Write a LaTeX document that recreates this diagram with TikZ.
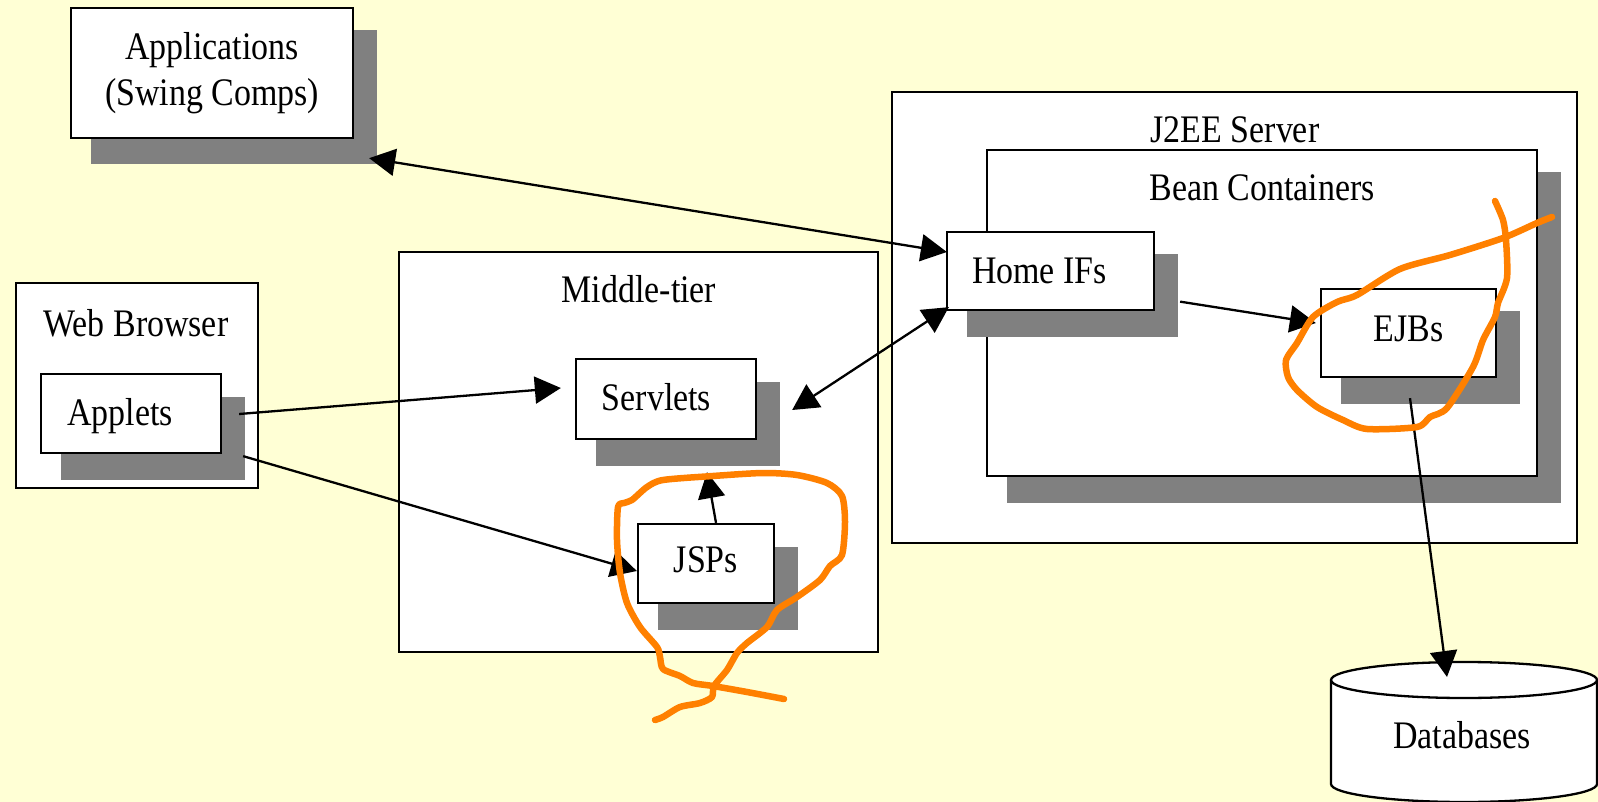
\documentclass[tikz,border=0pt]{standalone}
\usepackage{fontspec}
\setmainfont{Liberation Serif}[FakeStretch=0.87]
\usetikzlibrary{arrows.meta,calc}

\definecolor{paper}{RGB}{255,255,213}
\definecolor{shade}{RGB}{128,128,128}
\definecolor{marker}{RGB}{255,128,0}

\newcommand\labelfont{\fontsize{39pt}{46pt}\selectfont}

\tikzset{
  frame/.style={draw, fill=white, line width=2.3pt, inner sep=0pt},
  shadowed/.style={preaction={fill=shade, draw=shade, line width=4pt,
      transform canvas={shift={(22pt,-24.5pt)}}}},
  word/.style={font=\labelfont, text height=26pt, text depth=8pt},
  title/.style={word, inner sep=0pt},
  nudge/.style={execute at begin node={\hspace*{#1}}},
  tip/.tip={Triangle[length=26pt,width=27pt]},
  link/.style={line width=2.3pt, -tip},
  twoway/.style={line width=2.3pt, tip-tip},
  scrawl/.style={draw=marker, line width=6.5pt, line cap=round, line join=round}
}

\begin{document}
\begin{tikzpicture}[x=1pt, y=-1pt]
  % page
  \useasboundingbox (0,0) rectangle (1598,802);
  \fill[paper] (0,0) rectangle (1598,802);

  % desktop client
  \node[frame, shadowed, minimum width=282pt, minimum height=130pt,
        font=\labelfont, align=center] (apps) at (212,73)
        {Applications\\(Swing Comps)};

  % browser tier
  \node[frame, minimum width=242pt, minimum height=205pt] (web) at (137,385.5) {};
  \node[title] (webtitle) at (136,327) {Web Browser};
  \node[frame, shadowed, word, nudge=-22pt, minimum width=180pt, minimum height=79pt]
        (applets) at (131,413.5) {\raisebox{-3pt}{Applets}};

  % middle tier
  \node[frame, minimum width=479pt, minimum height=400pt] (middle) at (638.5,452) {};
  \node[title] (middletitle) at (639,294) {Middle-tier};
  \node[frame, shadowed, word, nudge=-19pt, minimum width=180pt, minimum height=80pt]
        (servlets) at (666,399) {\raisebox{-2pt}{Servlets}};
  \node[frame, shadowed, word, minimum width=136pt, minimum height=79pt]
        (jsps) at (706,563.5) {JSPs};

  % application server
  \node[frame, minimum width=685pt, minimum height=451pt] (j2ee) at (1234.5,317.5) {};
  \node[title] (j2eetitle) at (1235,134) {J2EE Server};
  \node[frame, shadowed, minimum width=550pt, minimum height=326pt] (bean) at (1262,313) {};
  \node[title] (beantitle) at (1262,192) {Bean Containers};
  \node[frame, shadowed, word, nudge=-22pt, minimum width=207pt, minimum height=78pt]
        (homeifs) at (1050.5,271) {\raisebox{-3pt}{Home IFs}};
  \node[frame, shadowed, word, minimum width=175pt, minimum height=88pt]
        (ejbs) at (1408.5,333) {\raisebox{1pt}{EJBs}};

  % data store
  \filldraw[frame] (1331,680) -- (1331,784)
      arc[start angle=180, end angle=360, x radius=133pt, y radius=18pt]
      -- (1597,680)
      arc[start angle=0, end angle=180, x radius=133pt, y radius=18pt] -- cycle;
  \draw[line width=2.3pt] (1331,680)
      arc[start angle=180, end angle=360, x radius=133pt, y radius=18pt];
  \node[title] (db) at (1462,739) {Databases};
  \coordinate (dbtop) at (1447,677);

  % connectors
  \draw[link] ($(applets.east)+(17,0.5)$) -- ($(servlets.west)+(-14,-11)$);
  \draw[link] ($(applets.south east)+(21,2)$) -- ($(jsps.west)+(0,7.5)$);
  \draw[link] ($(jsps.north)+(10,0)$) -- ($(servlets.south)+(41,32)$);
  \draw[twoway] ($(apps.south east)+(15,19)$) -- ($(homeifs.west)+(1,-19)$);
  \draw[twoway] ($(servlets.east)+(35,11)$) -- ($(homeifs.south west)+(3,-4)$);
  \draw[link] ($(homeifs.south east)+(25,-9.5)$) -- ($(ejbs.west)+(-4,-10)$);
  \draw[link] ($(ejbs.south)+(1.5,20)$) -- (dbtop);

  % hand-drawn marks
  \draw[scrawl] plot[smooth, tension=0.45] coordinates {
    (784,699) (747,692) (713,686) (693,683) (680,676) (663,669) (660,657)
    (657,647) (640,627) (627,603) (620,573) (617,540) (618,507) (624,503)
    (632,500) (647,487) (663,480) (713,476) (763,473) (797,475) (827,483)
    (842,496) (845,522) (842,555) (830,566) (820,580) (797,597) (777,610)
    (767,627) (747,643) (737,653) (727,670) (714,686) (712,697) (700,703)
    (680,707) (663,717) (655,720)};
  \draw[scrawl] plot[smooth, tension=0.45] coordinates {
    (1495,201) (1503,220) (1506,240) (1507,278) (1498,303) (1495,317)
    (1483,340) (1473,367) (1447,408) (1430,417) (1417,427) (1367,429)
    (1343,420) (1317,407) (1297,390) (1288,377) (1286,360) (1297,343)
    (1313,317) (1337,302) (1357,295) (1400,269) (1450,255) (1503,238)
    (1537,223) (1552,217)};
\end{tikzpicture}
\end{document}
